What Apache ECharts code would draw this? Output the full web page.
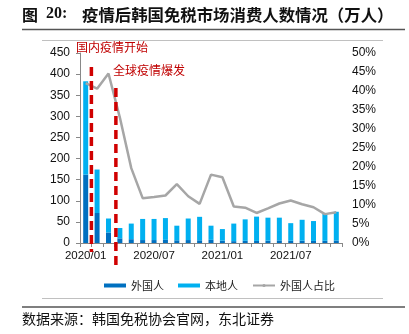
<!DOCTYPE html>
<html><head><meta charset="utf-8">
<script src="https://cdn.jsdelivr.net/npm/echarts@6/dist/echarts.min.js"></script>
<style>html,body{margin:0;padding:0;background:#fff}#c{width:409px;height:334px}</style>
</head><body><div id="c"></div>
<script>
const months = ['2020/01','2020/02','2020/03','2020/04','2020/05','2020/06','2020/07','2020/08','2020/09','2020/10','2020/11','2020/12',
  '2021/01','2021/02','2021/03','2021/04','2021/05','2021/06','2021/07','2021/08','2021/09','2021/10','2021/11'];
const foreign = [162, 71, 25, 11, 9, 7, 7, 7.4, 6.4, 7, 6.4, 7.4, 5.7, 4.4, 5.2, 4.9, 5.5, 6.2, 5.3, 5.6, 4.9, 5.2, 6.0];
const local = [221, 103, 33, 24.5, 37, 50, 50, 51.6, 34.6, 51, 55.6, 33.6, 27.3, 41.6, 50.8, 57.6, 54.5, 53.8, 41.7, 49.4, 47.1, 63.8, 68];
const foreignShare = [42.1, 40.6, 44.6, 33, 19.7, 11.8, 12.1, 12.5, 15.5, 12.3, 10.3, 18.0, 17.3, 9.6, 9.3, 7.9, 9.1, 10.4, 11.2, 10.2, 9.4, 7.6, 8.1];
const seriesNames = ['外国人', '本地人', '外国人占比'];
const titleText = '疫情后韩国免税市场消费人数情况（万人）';
const sourceText = '数据来源：韩国免税协会官网，东北证券';
const note1 = '国内疫情开始';
const note2 = '全球疫情爆发';

const CJK = '"Noto Sans CJK SC", sans-serif';
const LAT = '"Liberation Sans", Arial, sans-serif';
const chart = echarts.init(document.getElementById('c'), null, {renderer: 'canvas'});
chart.setOption({
  animation: false,
  grid: {left: 80, right: 67, top: 53, bottom: 91},
  legend: {
    left: 99, top: 275, itemWidth: 22, itemHeight: 4, itemGap: 14,
    textStyle: {fontFamily: CJK, fontSize: 11, color: '#222'},
    data: [
      {name: seriesNames[0], icon: 'rect'},
      {name: seriesNames[1], icon: 'rect'},
      {name: seriesNames[2]}
    ]
  },
  xAxis: {
    type: 'category', data: months,
    axisLine: {lineStyle: {color: '#888', width: 1}},
    axisTick: {show: true, interval: 0, length: 4, lineStyle: {color: '#888'}},
    axisLabel: {interval: 5, fontFamily: LAT, fontSize: 11.5, color: '#111', margin: 7}
  },
  yAxis: [
    {type: 'value', min: 0, max: 450, interval: 50,
     axisLine: {show: true, lineStyle: {color: '#888'}},
     axisTick: {show: true, length: 4, lineStyle: {color: '#888'}},
     splitLine: {show: false},
     axisLabel: {fontFamily: LAT, fontSize: 12, color: '#111', margin: 10}},
    {type: 'value', min: 0, max: 50, interval: 5, position: 'right',
     axisLine: {show: false}, axisTick: {show: false}, splitLine: {show: false},
     axisLabel: {fontFamily: LAT, fontSize: 12, color: '#111', margin: 10, formatter: v => v + '%'}}
  ],
  series: [
    {name: seriesNames[0], type: 'bar', stack: 'a', data: foreign, barWidth: 5, itemStyle: {color: '#0070c0'}},
    {name: seriesNames[1], type: 'bar', stack: 'a', data: local, barWidth: 5, itemStyle: {color: '#00b0f0'}},
    {name: seriesNames[2], type: 'line', yAxisIndex: 1, data: foreignShare, symbol: 'none',
     lineStyle: {color: '#a6a6a6', width: 2.5}, itemStyle: {color: '#a6a6a6'}}
  ]
});

// annotation positions from the axis scale
const p0 = chart.convertToPixel({xAxisIndex: 0}, 0);
const p1 = chart.convertToPixel({xAxisIndex: 0}, 1);
const step = p1 - p0;
const xa = p0 + 0.5 * step;
const xb = p0 + 2.65 * step;
const red = '#d00000';
chart.setOption({
  graphic: [
    {type: 'text', left: 22, top: 7, style: {text: '图', font: 'bold 16px ' + CJK, fill: '#111'}},
    {type: 'text', left: 46, top: 6, style: {text: '20:', font: 'bold 16px "Liberation Serif", serif', fill: '#111'}},
    {type: 'text', left: 82, top: 7, style: {text: titleText, font: 'bold 16.4px ' + CJK, fill: '#111'}},
    {type: 'line', shape: {x1: 22, y1: 29.5, x2: 405, y2: 29.5}, style: {stroke: '#555', lineWidth: 1.5}},
    {type: 'line', shape: {x1: 42, y1: 40.5, x2: 383, y2: 40.5}, style: {stroke: '#c0c0c0', lineWidth: 1}},
    {type: 'line', shape: {x1: 42, y1: 298.5, x2: 383, y2: 298.5}, style: {stroke: '#c0c0c0', lineWidth: 1}},
    {type: 'line', shape: {x1: 22, y1: 307, x2: 405, y2: 307}, style: {stroke: '#555', lineWidth: 1.5}},
    {type: 'text', left: 22, top: 312, style: {text: sourceText, font: '14px ' + CJK, fill: '#111'}},
    {type: 'line', shape: {x1: xa, y1: 67, x2: xa, y2: 252}, style: {stroke: red, lineWidth: 3.5, lineDash: [9, 5]}, z: 100},
    {type: 'line', shape: {x1: xb, y1: 88, x2: xb, y2: 265}, style: {stroke: red, lineWidth: 3.5, lineDash: [9, 5]}, z: 100},
    {type: 'text', left: 76, top: 41, style: {text: note1, font: '12px ' + CJK, fill: '#c00000'}, z: 100},
    {type: 'text', left: 113, top: 64, style: {text: note2, font: '12px ' + CJK, fill: '#c00000'}, z: 100}
  ]
});
</script></body></html>
